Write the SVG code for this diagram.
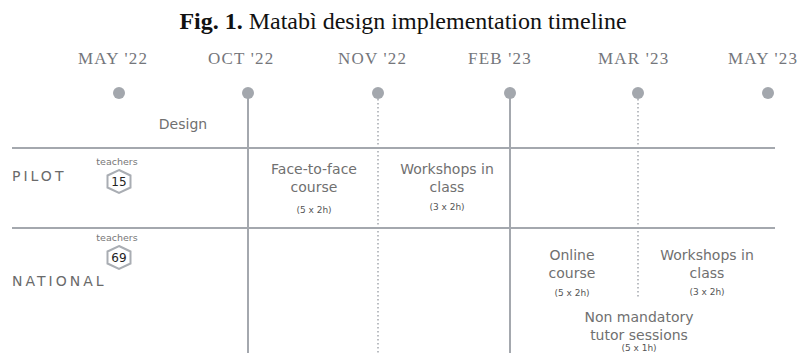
<svg xmlns="http://www.w3.org/2000/svg" width="802" height="353" viewBox="0 0 802 353">
  <style>
    .title { font-family: "Liberation Serif", "Times New Roman", serif; font-size: 24px; fill: #111; }
    .month { font-family: "Liberation Serif", serif; font-size: 17px; letter-spacing: 1.2px; fill: #74767b; }
    .lbl { font-family: "DejaVu Sans", sans-serif; font-size: 14px; fill: #707070; text-anchor: middle; }
    .small { font-family: "DejaVu Sans", sans-serif; font-size: 9px; fill: #555; text-anchor: middle; }
    .row { font-family: "DejaVu Sans", sans-serif; font-size: 14px; letter-spacing: 3px; fill: #6a6a6a; }
    .tiny { font-family: "DejaVu Sans", sans-serif; font-size: 9.5px; fill: #777; text-anchor: middle; }
    .num { font-family: "DejaVu Sans", sans-serif; font-size: 12px; fill: #222; text-anchor: middle; }
    .solid { stroke: #a4a8ae; stroke-width: 2; fill: none; }
    .dotted { stroke: #a4a8ae; stroke-width: 1.5; stroke-dasharray: 1.5 2.5; fill: none; }
    .dot { fill: #a3a7ad; }
    .hex { fill: #fff; stroke: #a9adb3; stroke-width: 2; }
  </style>

  <text class="title" x="403" y="29" text-anchor="middle"><tspan font-weight="bold">Fig. 1.</tspan> Matabì design implementation timeline</text>

  <!-- grid lines and milestone stems -->
  <g id="connectors">
    <line class="solid" x1="12" y1="148" x2="775" y2="148"/>
    <line class="solid" x1="12" y1="228" x2="775" y2="228"/>
    <line class="solid" x1="248" y1="93" x2="248" y2="353"/>
    <line class="solid" x1="510" y1="93" x2="510" y2="353"/>
    <line class="dotted" x1="378" y1="99" x2="378" y2="353"/>
    <line class="dotted" x1="638" y1="99" x2="638" y2="297"/>
  </g>

  <!-- milestones -->
  <g id="m-may22"><text class="month" x="78" y="64">MAY '22</text><circle class="dot" cx="119" cy="93" r="6"/></g>
  <g id="m-oct22"><text class="month" x="208" y="64">OCT '22</text><circle class="dot" cx="248" cy="93" r="6"/></g>
  <g id="m-nov22"><text class="month" x="338" y="64">NOV '22</text><circle class="dot" cx="378" cy="93" r="6"/></g>
  <g id="m-feb23"><text class="month" x="468" y="64">FEB '23</text><circle class="dot" cx="510" cy="93" r="6"/></g>
  <g id="m-mar23"><text class="month" x="598" y="64">MAR '23</text><circle class="dot" cx="638" cy="93" r="6"/></g>
  <g id="m-may23"><text class="month" x="728" y="64">MAY '23</text><circle class="dot" cx="768" cy="93" r="6"/></g>

  <g id="design"><text class="lbl" x="183" y="129">Design</text></g>

  <!-- pilot row -->
  <g id="pilot">
    <text class="row" x="12" y="181">PILOT</text>
    <text class="tiny" x="117" y="165">teachers</text>
    <polygon class="hex" points="119,170 130.5,175.5 130.5,187.5 119,193 107.5,187.5 107.5,175.5"/>
    <text class="num" x="119" y="186">15</text>
  </g>
  <g id="pilot-course">
    <text class="lbl" x="314" y="174">Face-to-face</text>
    <text class="lbl" x="314" y="192">course</text>
    <text class="small" x="314" y="213">(5 x 2h)</text>
  </g>
  <g id="pilot-workshops">
    <text class="lbl" x="447" y="174">Workshops in</text>
    <text class="lbl" x="447" y="192">class</text>
    <text class="small" x="447" y="210">(3 x 2h)</text>
  </g>

  <!-- national row -->
  <g id="national">
    <text class="row" x="12" y="286">NATIONAL</text>
    <text class="tiny" x="117" y="241">teachers</text>
    <polygon class="hex" points="119,246 130.5,251.5 130.5,263.5 119,269 107.5,263.5 107.5,251.5"/>
    <text class="num" x="119" y="262">69</text>
  </g>
  <g id="national-online">
    <text class="lbl" x="572" y="260">Online</text>
    <text class="lbl" x="572" y="278">course</text>
    <text class="small" x="572" y="296">(5 x 2h)</text>
  </g>
  <g id="national-workshops">
    <text class="lbl" x="707" y="260">Workshops in</text>
    <text class="lbl" x="707" y="278">class</text>
    <text class="small" x="707" y="295">(3 x 2h)</text>
  </g>
  <g id="national-tutor">
    <text class="lbl" x="639" y="322">Non mandatory</text>
    <text class="lbl" x="639" y="340">tutor sessions</text>
    <text class="small" x="639" y="351">(5 x 1h)</text>
  </g>
</svg>
